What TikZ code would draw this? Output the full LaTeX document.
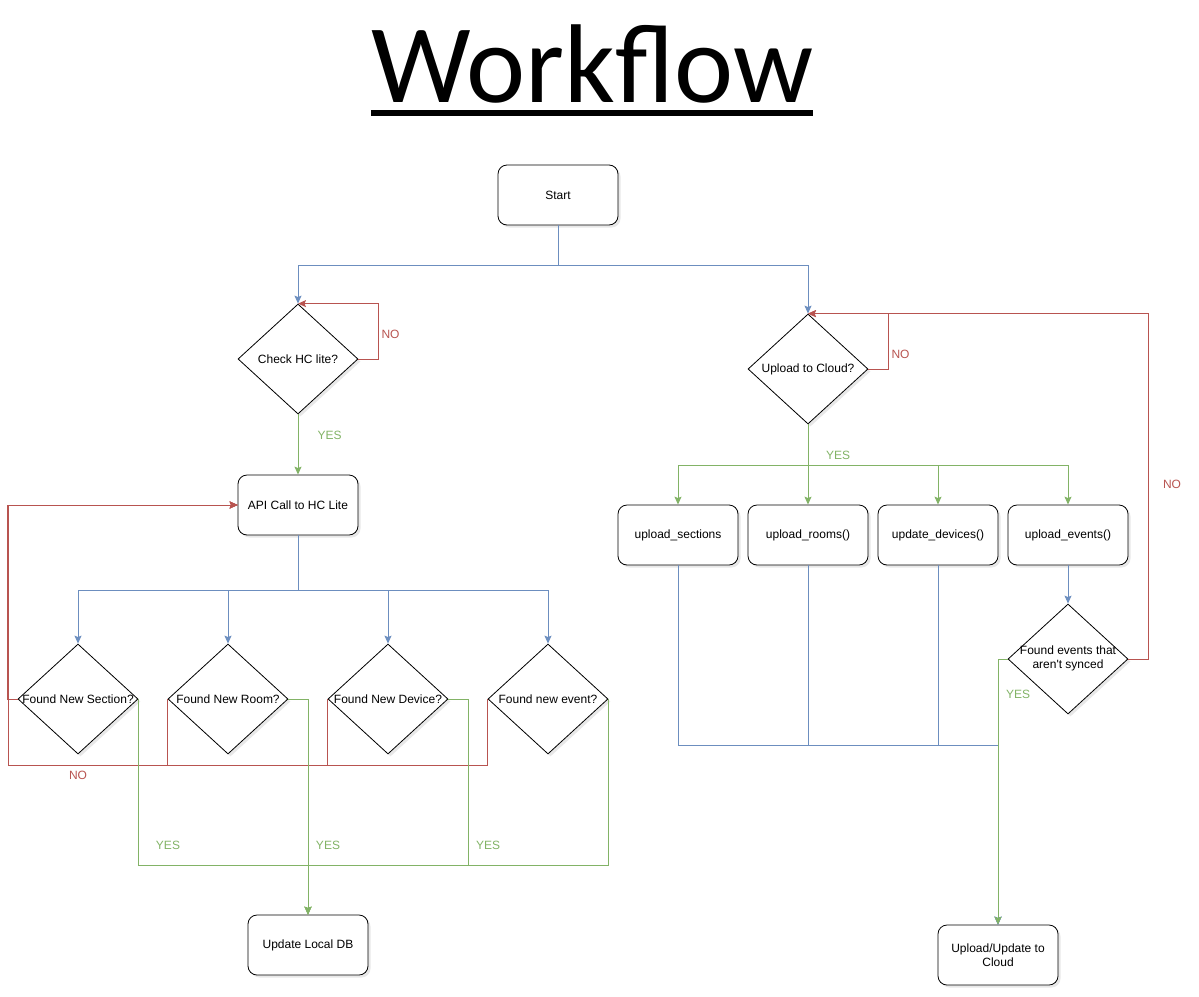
\documentclass[tikz,border=0pt]{standalone}
\usepackage{fontspec}
\setmainfont{Liberation Sans}
\newfontfamily\titlefont{Carlito}
\usepackage{tikz}
\usetikzlibrary{arrows.meta, positioning, calc, shapes.geometric, shadows}

\definecolor{flowblue}{HTML}{6C8EBF}
\definecolor{flowred}{HTML}{B85450}
\definecolor{flowgreen}{HTML}{82B366}

% zero-width box, so the text may overflow the diamond
\newcommand{\clapbox}[1]{\makebox[0pt]{#1}}

\begin{document}
\begin{tikzpicture}[x=1pt, y=-1pt, >={Stealth[length=8pt, width=7pt, inset=1.5pt]},
  boxshadow/.style={drop shadow={shadow xshift=2.5pt, shadow yshift=-2.5pt, opacity=0.18}},
  process/.style={draw, rounded corners=9pt, fill=white, line width=0.8pt,
    minimum width=120pt, minimum height=60pt, align=center,
    font=\fontsize{12}{14}\selectfont, boxshadow},
  decision/.style={diamond, draw, fill=white, line width=0.8pt, inner sep=0pt,
    minimum width=120pt, minimum height=110pt,
    font=\fontsize{12}{14}\selectfont, boxshadow},
  blueline/.style={->, draw=flowblue, line width=1pt},
  redline/.style={->, draw=flowred, line width=1pt},
  greenline/.style={->, draw=flowgreen, line width=1pt},
  yes/.style={text=flowgreen, font=\fontsize{12}{14}\selectfont},
  no/.style={text=flowred, font=\fontsize{12}{14}\selectfont}]
  \useasboundingbox (0,0) rectangle (1199,996);

  % Title
  \node[anchor=base, inner sep=0pt, font=\titlefont\fontsize{112}{118}\selectfont]
    (title) at (592,102) {Workflow};
  \draw[line width=6.5pt] ([yshift=-11pt]title.base west) -- ([yshift=-11pt]title.base east);

  % Nodes
  \node[process] (start) at (558,195) {Start};
  \node[decision] (check) at (298,359) {\clapbox{Check HC lite?}};
  \node[process] (api) at (298,505) {API Call to HC Lite};
  \node[decision] (dSection) at (78,699) {\clapbox{Found New Section?}};
  \node[decision] (dRoom) at (228,699) {\clapbox{Found New Room?}};
  \node[decision] (dDevice) at (388,699) {\clapbox{Found New Device?}};
  \node[decision] (dEvent) at (548,699) {\clapbox{Found new event?}};
  \node[process] (localdb) at (308,945) {Update Local DB};

  \node[decision] (cloud) at (808,369) {\clapbox{Upload to Cloud?}};
  \node[process] (upSections) at (678,535) {upload\_sections};
  \node[process] (upRooms) at (808,535) {upload\_rooms()};
  \node[process] (upDevices) at (938,535) {update\_devices()};
  \node[process] (upEvents) at (1068,535) {upload\_events()};
  \node[decision] (dEvents) at (1068,659)
    {\clapbox{\begin{tabular}{@{}c@{}}Found events that\\aren\textquotesingle t synced\end{tabular}}};
  \node[process] (final) at (998,955) {Upload/Update to\\Cloud};

  \coordinate (noBus) at (8,765);
  \coordinate (yesBus) at (308,865);
  \coordinate (cloudBus) at (998,745);

  % Start splits
  \draw[blueline] (start.south) -- ++(0,40) -| (check.north);
  \draw[blueline] (start.south) -- ++(0,40) -| (cloud.north);

  % Local side
  \draw[redline] (check.east) -- ++(20,0) |- (check.north);
  \node[no, right] (noCheck) at (378,334) {NO};
  \draw[greenline] (check.south) -- (api.north);
  \node[yes, right] (yesCheck) at (314,435) {YES};

  \foreach \d in {dSection, dRoom, dDevice, dEvent}
    \draw[blueline] (api.south) -- ++(0,55) -| (\d.north);

  \draw[redline] (dSection.west) -- ++(-10,0) |- (api.west);
  \draw[redline] (dRoom.west) |- (noBus) |- (api.west);
  \draw[redline] (dDevice.west) |- (noBus) |- (api.west);
  \draw[redline] (dEvent.west) |- (noBus) |- (api.west);
  \node[no] (noFound) at (78,775) {NO};

  \draw[greenline] (dSection.east) |- (yesBus) -- (localdb.north);
  \draw[greenline] (dRoom.east) -| (localdb.north);
  \draw[greenline] (dDevice.east) -- ++(20,0) |- (yesBus) -- (localdb.north);
  \draw[greenline] (dEvent.east) |- (yesBus) -- (localdb.north);
  \node[yes] (yesSection) at (168,845) {YES};
  \node[yes] (yesRoom) at (328,845) {YES};
  \node[yes] (yesDevice) at (488,845) {YES};

  % Cloud side
  \draw[redline] (cloud.east) -- ++(20,0) |- (cloud.north);
  \node[no, right] (noCloud) at (888,354) {NO};
  \draw[redline] (dEvents.east) -- ++(20,0) |- (cloud.north);
  \node[no] (noEvents) at (1172,484) {NO};

  \foreach \u in {upSections, upRooms, upDevices, upEvents}
    \draw[greenline] (cloud.south) -- ++(0,41) -| (\u.north);
  \node[yes] (yesCloud) at (838,455) {YES};

  \draw[blueline] (upEvents.south) -- (dEvents.north);
  \foreach \u in {upSections, upRooms, upDevices}
    \draw[blueline] (\u.south) |- (cloudBus) -- (final.north);
  \draw[greenline] (dEvents.west) -| (final.north);
  \node[yes] (yesEvents) at (1018,694) {YES};
\end{tikzpicture}
\end{document}
